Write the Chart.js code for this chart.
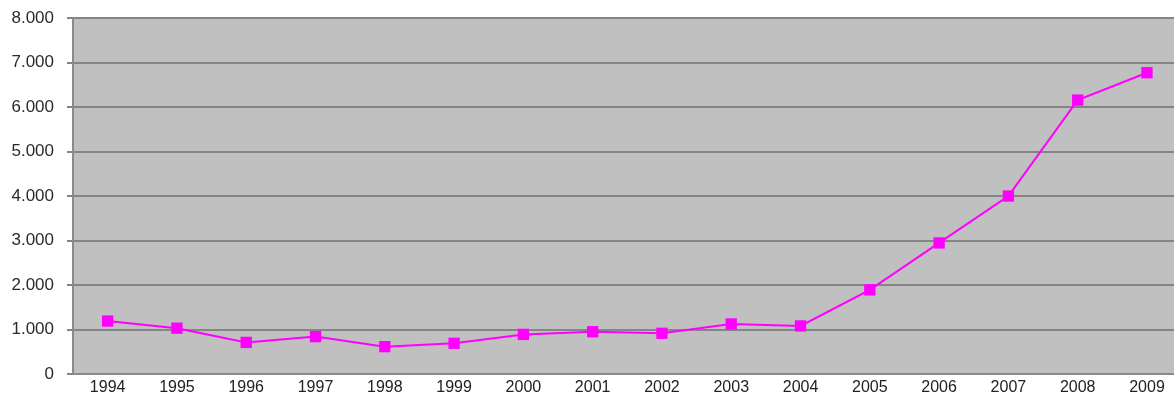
<!DOCTYPE html>
<html>
<head>
<meta charset="utf-8">
<script src="https://cdn.jsdelivr.net/npm/chart.js@4"></script>
<style>
  html, body { margin: 0; padding: 0; background: #ffffff; overflow: hidden; }
  #wrap { width: 1174px; height: 393px; }
  #chart { display: block; }
</style>
</head>
<body>
<div id="wrap"><canvas id="chart" width="1174" height="393"></canvas></div>
<script>
// Years on the horizontal axis
const years = ['1994', '1995', '1996', '1997', '1998', '1999', '2000', '2001',
               '2002', '2003', '2004', '2005', '2006', '2007', '2008', '2009'];
// Annual totals
const values = [1190, 1030, 710, 840, 615, 690, 890, 950,
                915, 1125, 1080, 1890, 2945, 4000, 6155, 6770];
// Vertical axis range and step
const yMin = 0;
const yMax = 8000;
const yStep = 1000;
// Horizontal extent in year slots (the last slot is cut off at the right edge)
const xMin = -0.5;
const xMax = 15.39;

// Points placed on a numeric x axis: slot index -> value
const points = values.map((v, i) => ({ x: i, y: v }));

// Grey plot area fill behind the grid
const plotBackground = {
  id: 'plotBackground',
  beforeDraw(chart) {
    const { ctx, chartArea: a } = chart;
    ctx.save();
    ctx.fillStyle = '#c0c0c0';
    ctx.fillRect(a.left, a.top, a.right - a.left, a.bottom - a.top);
    ctx.restore();
  }
};

const fmt = v => v === 0 ? '0' : v.toLocaleString('de-DE');

new Chart(document.getElementById('chart'), {
  type: 'line',
  data: {
    datasets: [{
      data: points,
      borderColor: '#ff00ff',
      borderWidth: 2,
      backgroundColor: '#ff00ff',
      pointStyle: 'rect',
      pointRadius: 8,
      pointBorderWidth: 0,
      pointBackgroundColor: '#ff00ff',
      tension: 0,
      fill: false
    }]
  },
  options: {
    responsive: false,
    animation: false,
    devicePixelRatio: 1,
    layout: { autoPadding: false, padding: { top: 18, left: 0, right: 0, bottom: 0 } },
    plugins: {
      legend: { display: false },
      tooltip: { enabled: false },
      title: { display: false }
    },
    scales: {
      x: {
        type: 'linear',
        min: xMin,
        max: xMax,
        grid: { display: false, drawTicks: false },
        border: { display: true, color: '#8a8a8a', width: 2 },
        afterBuildTicks(scale) {
          scale.ticks = years.map((_, i) => ({ value: i }));
        },
        ticks: {
          color: '#222222',
          font: { family: 'Liberation Sans', size: 16 },
          padding: 4,
          maxRotation: 0,
          autoSkip: false,
          callback: v => years[v]
        },
        afterFit(scale) {
          scale.height = 19;
          scale.paddingLeft = 0;
          scale.paddingRight = 0;
        }
      },
      y: {
        min: yMin,
        max: yMax,
        grid: {
          color: '#858585',
          lineWidth: 2,
          tickLength: 6,
          drawTicks: true
        },
        border: { display: true, color: '#8a8a8a', width: 2 },
        ticks: {
          stepSize: yStep,
          color: '#2a2a2a',
          font: { family: 'Liberation Sans', size: 17 },
          padding: 13,
          callback: v => fmt(v)
        },
        afterFit(scale) {
          scale.width = 73;
          scale.paddingTop = 0;
          scale.paddingBottom = 0;
        }
      }
    }
  },
  plugins: [plotBackground]
});
</script>
</body>
</html>
